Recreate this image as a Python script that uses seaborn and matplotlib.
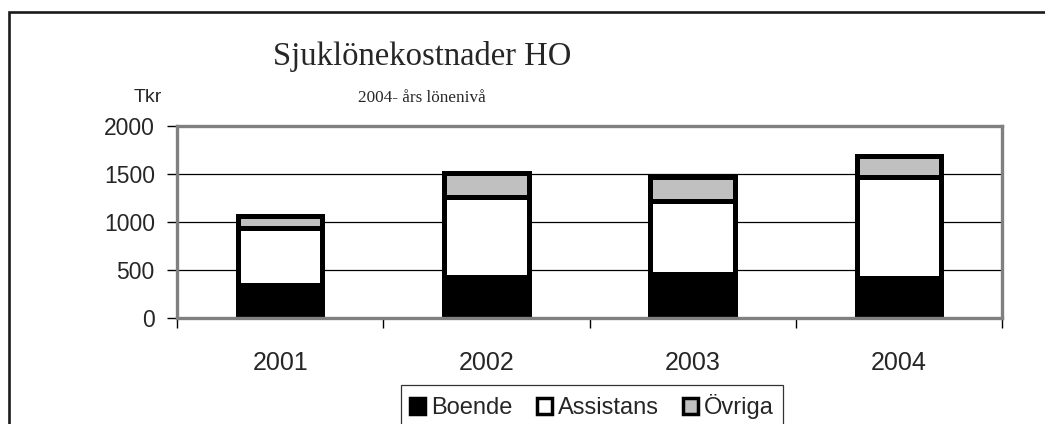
import numpy as np
import pandas as pd
import seaborn as sns
import matplotlib.pyplot as plt
from matplotlib.patches import Patch, Rectangle

# values (Tkr)
years = ['2001', '2002', '2003', '2004']
boende = [345, 430, 460, 415]
assistans = [595, 835, 760, 1050]
ovriga = [125, 245, 250, 225]
series_names = ['Boende', 'Assistans', 'Övriga']
series_colors = ['#000000', '#ffffff', '#c0c0c0']

sns.set_style('white')
plt.rcParams['font.family'] = ['Liberation Sans', 'DejaVu Sans']

df = pd.DataFrame({'year': years, 'Boende': boende, 'Assistans': assistans, 'Övriga': ovriga})
df['lvl1'] = df['Boende']
df['lvl2'] = df['Boende'] + df['Assistans']
df['lvl3'] = df['lvl2'] + df['Övriga']

fig = plt.figure(figsize=(10.45, 4.24), dpi=100)
ax = fig.add_axes([177 / 1045, 1 - 318 / 424, (1002 - 177) / 1045, (318 - 126) / 424])

# stacked bars drawn as overlapping cumulative totals, top layer first
for col, c in zip(['lvl3', 'lvl2', 'lvl1'], series_colors[::-1]):
    sns.barplot(data=df, x='year', y=col, color=c, saturation=1, width=0.41,
                edgecolor='black', linewidth=3.6, ax=ax, zorder=3)

ax.set_ylim(0, 2000)
ax.set_xlim(-0.5, 3.5)
ax.set_yticks([0, 500, 1000, 1500, 2000])
ax.set_xlabel('')
ax.set_ylabel('')
ax.yaxis.grid(True, color='black', linewidth=0.9)
ax.xaxis.grid(False)
ax.set_axisbelow(True)

for s in ax.spines.values():
    s.set_visible(True)
    s.set_color('#808080')
    s.set_linewidth(2.4)
    s.set_zorder(4)

ax.set_xticks(np.arange(-0.5, 4, 1), minor=True)
ax.tick_params(axis='x', which='major', length=0, pad=24, labelsize=18)
ax.tick_params(axis='x', which='minor', length=7, width=1, color='black', direction='out', bottom=True)
ax.tick_params(axis='y', which='major', length=7, width=1, color='black', direction='out', left=True, pad=9, labelsize=16.5)

fig.text(422 / 1045, 1 - 65 / 424, 'Sjuklönekostnader HO', ha='center', va='baseline',
         fontsize=23.5, family=['Liberation Serif', 'DejaVu Serif'])
fig.text(422 / 1045, 1 - 102 / 424, '2004- års lönenivå', ha='center', va='baseline',
         fontsize=12.3, family=['Liberation Serif', 'DejaVu Serif'])
fig.text(148 / 1045, 1 - 102 / 424, 'Tkr', ha='center', va='baseline', fontsize=14)

handles = [Patch(facecolor=c, edgecolor='black', linewidth=2.5) for c in series_colors]
leg = fig.legend(handles, series_names, loc='upper center', bbox_to_anchor=(592 / 1045, 1 - 385 / 424),
                 ncol=3, fontsize=17, frameon=True, fancybox=False, handlelength=0.62, handleheight=0.62,
                 handletextpad=0.25, columnspacing=1.05, borderpad=0.4, borderaxespad=0)
leg.get_frame().set_edgecolor('black')
leg.get_frame().set_linewidth(0.9)

# outer chart border (right and bottom edges fall outside the image)
fig.add_artist(Rectangle((9 / 1045, -0.2), 1.2, 0.2 + 1 - 12 / 424, transform=fig.transFigure,
                         fill=False, edgecolor='#1a1a1a', linewidth=1.9, clip_on=False))

fig.savefig('out.png', dpi=100)
